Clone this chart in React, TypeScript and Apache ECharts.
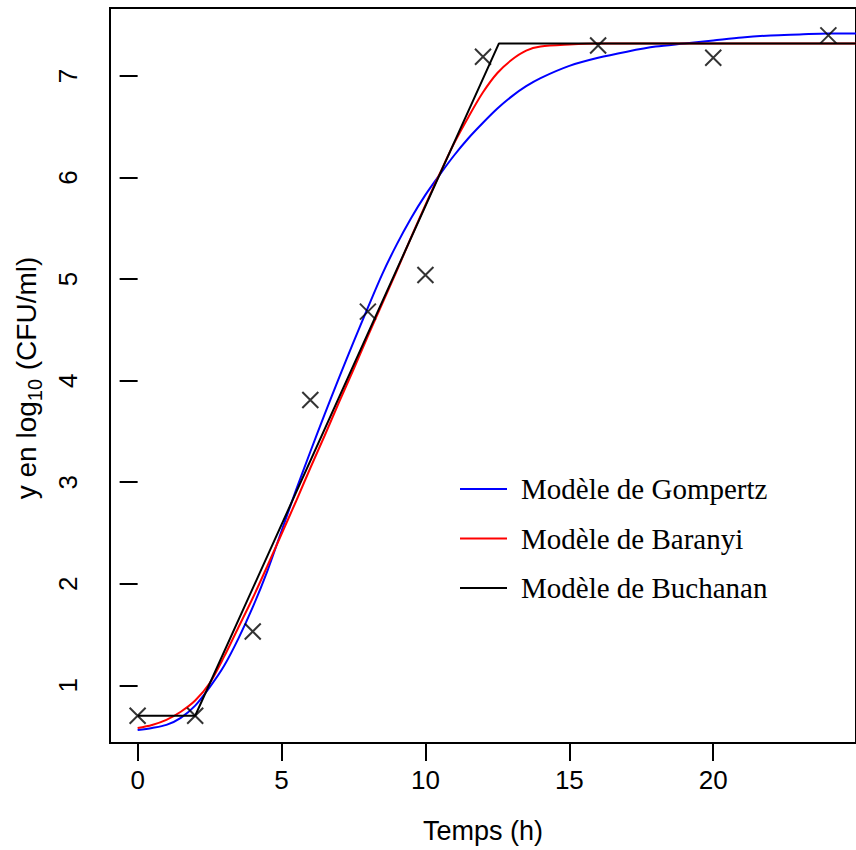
import React, { useEffect, useRef } from "react";
import * as echarts from "echarts";

// Observed data (crosses)
const obsTime = [0, 2, 4, 6, 8, 10, 12, 16, 20, 24];
const obsLogCfu = [0.7, 0.7, 1.53, 3.81, 4.68, 5.04, 7.19, 7.3, 7.18, 7.4];

// Gompertz curve
const gompTime = [0, 0.5, 1, 1.5, 2, 2.5, 3, 3.5, 4, 4.5, 5, 5.5, 6, 6.5, 7, 7.5, 8, 8.5, 9, 9.5, 10, 10.5, 11, 11.5, 12, 12.5, 13, 13.5, 14, 15, 16, 17, 18, 19, 20, 21, 22, 23, 24, 25];
const gompY = [0.56, 0.58, 0.61, 0.68, 0.8, 0.98, 1.19, 1.46, 1.77, 2.12, 2.52, 2.92, 3.3, 3.67, 4.03, 4.38, 4.72, 5.05, 5.34, 5.6, 5.83, 6.03, 6.22, 6.39, 6.54, 6.68, 6.8, 6.9, 6.98, 7.1, 7.18, 7.24, 7.29, 7.32, 7.35, 7.38, 7.4, 7.41, 7.42, 7.42];

// Baranyi curve
const baranyiTime = [0, 0.5, 1, 1.5, 2, 2.5, 3, 3.5, 4, 4.5, 5, 5.5, 6, 6.5, 7, 7.5, 8, 8.5, 9, 9.5, 10, 10.5, 11, 11.5, 12, 12.5, 13, 13.5, 14, 15, 16, 20, 25];
const baranyiY = [0.58, 0.61, 0.66, 0.74, 0.85, 1.02, 1.28, 1.57, 1.86, 2.17, 2.49, 2.81, 3.14, 3.46, 3.79, 4.11, 4.44, 4.76, 5.08, 5.41, 5.73, 6.04, 6.34, 6.6, 6.84, 7.03, 7.16, 7.25, 7.29, 7.31, 7.32, 7.32, 7.32];

// Buchanan (three-phase linear) curve
const buchananTime = [0, 2, 12.55, 25];
const buchananY = [0.7, 0.7, 7.32, 7.32];

const xTicks = [0, 5, 10, 15, 20];
const yTicks = [1, 2, 3, 4, 5, 6, 7];

const legendNames = ["Modèle de Gompertz", "Modèle de Baranyi", "Modèle de Buchanan"];
const legendColors = ["#0000ff", "#ff0000", "#000000"];

const zip = (a: number[], b: number[]) => a.map((v, i) => [v, b[i]]);

export default function App() {
  const ref = useRef<HTMLDivElement>(null);
  useEffect(() => {
    if (!ref.current) return;
    const chart = echarts.init(ref.current, null, { renderer: "svg" });
    const sans = "Liberation Sans, Arial, Helvetica, sans-serif";
    const serif = "Liberation Serif, Times New Roman, serif";
    const legendRows = [489, 538.5, 588];
    chart.setOption({
      animation: false,
      backgroundColor: "#ffffff",
      grid: {
        left: 110,
        top: 8,
        right: -7,
        bottom: 107,
        show: true,
        borderColor: "#000",
        borderWidth: 2,
        backgroundColor: "transparent",
      },
      xAxis: {
        type: "value",
        min: -0.96,
        max: 24.96,
        name: "Temps (h)",
        nameLocation: "middle",
        nameGap: 74,
        nameTextStyle: { fontFamily: sans, fontSize: 27, color: "#000" },
        axisLine: { show: false },
        axisTick: {
          show: true,
          length: 18,
          lineStyle: { color: "#000", width: 2 },
          customValues: xTicks,
        },
        axisLabel: {
          fontFamily: sans,
          fontSize: 26,
          color: "#000",
          margin: 24,
          customValues: xTicks,
        },
        splitLine: { show: false },
      },
      yAxis: {
        type: "value",
        min: 0.432,
        max: 7.67,
        axisLine: { show: false },
        axisTick: {
          show: true,
          length: 18,
          lineStyle: { color: "#000", width: 2 },
          customValues: yTicks,
        },
        axisLabel: {
          fontFamily: sans,
          fontSize: 26,
          color: "#000",
          margin: 29,
          rotate: 90,
          customValues: yTicks,
        },
        splitLine: { show: false },
      },
      series: [
        {
          type: "line",
          name: legendNames[0],
          data: zip(gompTime, gompY),
          smooth: 0.3,
          showSymbol: false,
          lineStyle: { color: legendColors[0], width: 2 },
          clip: true,
        },
        {
          type: "line",
          name: legendNames[1],
          data: zip(baranyiTime, baranyiY),
          smooth: 0.3,
          showSymbol: false,
          lineStyle: { color: legendColors[1], width: 2 },
          clip: true,
        },
        {
          type: "line",
          name: legendNames[2],
          data: zip(buchananTime, buchananY),
          showSymbol: false,
          lineStyle: { color: legendColors[2], width: 2 },
          clip: true,
        },
        {
          type: "scatter",
          name: "Observations",
          data: zip(obsTime, obsLogCfu),
          symbol: "path://M0 0L10 10M10 0L0 10",
          symbolSize: 16,
          itemStyle: { color: "transparent", borderColor: "#000", borderWidth: 2 },
          z: 5,
        },
      ],
      graphic: [
        {
          type: "text",
          x: 23,
          y: 378,
          rotation: Math.PI / 2,
          style: {
            text: "{a|y en log}{b|10}{a| (CFU/ml)}",
            align: "center",
            verticalAlign: "middle",
            fill: "#000",
            rich: {
              a: { fontFamily: sans, fontSize: 28, lineHeight: 34, fill: "#000", verticalAlign: "bottom" },
              b: { fontFamily: sans, fontSize: 20, lineHeight: 20, fill: "#000", verticalAlign: "bottom", padding: [0, 1, -5, 0] },
            },
          },
        },
        ...legendNames.flatMap((name, i) => [
          {
            type: "line",
            shape: { x1: 460, y1: legendRows[i], x2: 507, y2: legendRows[i] },
            style: { stroke: legendColors[i], lineWidth: 2 },
          },
          {
            type: "text",
            x: 521,
            y: legendRows[i],
            style: {
              text: name,
              fontFamily: serif,
              fontSize: 29,
              fill: "#000",
              align: "left",
              verticalAlign: "middle",
            },
          },
        ]),
      ],
    });
    return () => chart.dispose();
  }, []);
  return (
    <div
      ref={ref}
      style={{ position: "absolute", left: 0, top: 0, width: 856, height: 850, background: "#fff" }}
    />
  );
}
